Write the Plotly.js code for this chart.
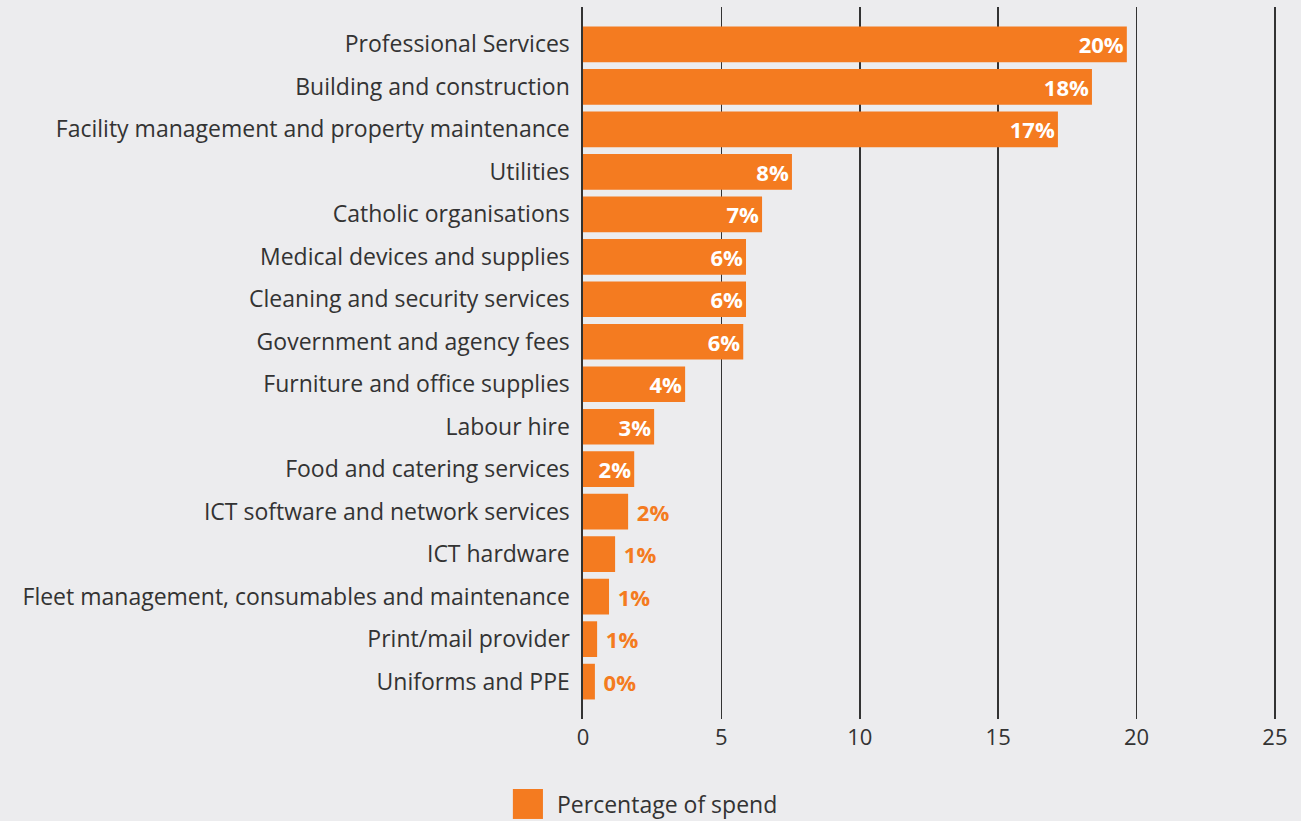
<!DOCTYPE html>
<html><head><meta charset="utf-8">
<script src="https://cdn.plot.ly/plotly-3.0.1.min.js"></script>
<style>html,body{margin:0;padding:0;background:#ececee;}#chart{width:1301px;height:821px;}</style>
</head><body><div id="chart"></div>
<script>
const categories = ["Professional Services","Building and construction","Facility management and property maintenance","Utilities","Catholic organisations","Medical devices and supplies","Cleaning and security services","Government and agency fees","Furniture and office supplies","Labour hire","Food and catering services","ICT software and network services","ICT hardware","Fleet management, consumables and maintenance","Print/mail provider","Uniforms and PPE"];
const spend = [19.65,18.39,17.16,7.55,6.47,5.89,5.89,5.79,3.69,2.57,1.85,1.63,1.16,0.94,0.51,0.43];
const labels = ["20%","18%","17%","8%","7%","6%","6%","6%","4%","3%","2%","2%","1%","1%","1%","0%"];
const xTicks = [0,5,10,15,20,25];
const seriesName = "Percentage of spend";

const orange = "#f47b20";
const FONT = "'Open Sans', sans-serif";
const inside = spend.map(v => v >= 1.8);
const trace = {
  type: "bar", orientation: "h", name: seriesName,
  y: categories, x: spend, text: labels,
  texttemplate: inside.map(b => b ? "%{text}" : "\u00a0%{text}"),
  textposition: inside.map(b => b ? "inside" : "outside"),
  insidetextanchor: "end", constraintext: "none", cliponaxis: false,
  textfont: {family: FONT, size: 22, weight: 700, color: inside.map(b => b ? "#ffffff" : orange)},
  marker: {color: orange}, hoverinfo: "none", showlegend: false
};
const layout = {
  width: 1301, height: 821,
  margin: {l: 583, r: 25, t: 7, b: 102},
  paper_bgcolor: "#ececee", plot_bgcolor: "#ececee",
  bargap: 0.16,
  font: {family: FONT, color: "#333333"},
  xaxis: {range: [0, 25.04], tickvals: xTicks, ticktext: xTicks.map(String), showgrid: true, gridcolor: "#333333", gridwidth: 1.6,
          zeroline: false, showline: false, ticks: "", ticklabelstandoff: 3, tickfont: {size: 22, color: "#333333"}, fixedrange: true},
  yaxis: {type: "category", categoryorder: "array", categoryarray: categories, range: [15.88, -0.88],
          showgrid: false, zeroline: false, showline: true, linecolor: "#333333", linewidth: 1.6,
          ticks: "", ticklabelstandoff: 7, tickfont: {size: 23, color: "#333333"}, fixedrange: true},
  shapes: [{type: "rect", xref: "paper", yref: "paper", x0: -0.1012, x1: -0.0578, y0: -0.0983, y1: -0.1404,
            fillcolor: orange, line: {width: 0}}],
  annotations: [{xref: "paper", yref: "paper", x: -0.0405, y: -0.1194, xanchor: "left", yanchor: "middle",
                 text: seriesName, showarrow: false, font: {size: 23, color: "#333333"}}]
};
Plotly.newPlot("chart", [trace], layout, {displayModeBar: false, staticPlot: true});
</script></body></html>
